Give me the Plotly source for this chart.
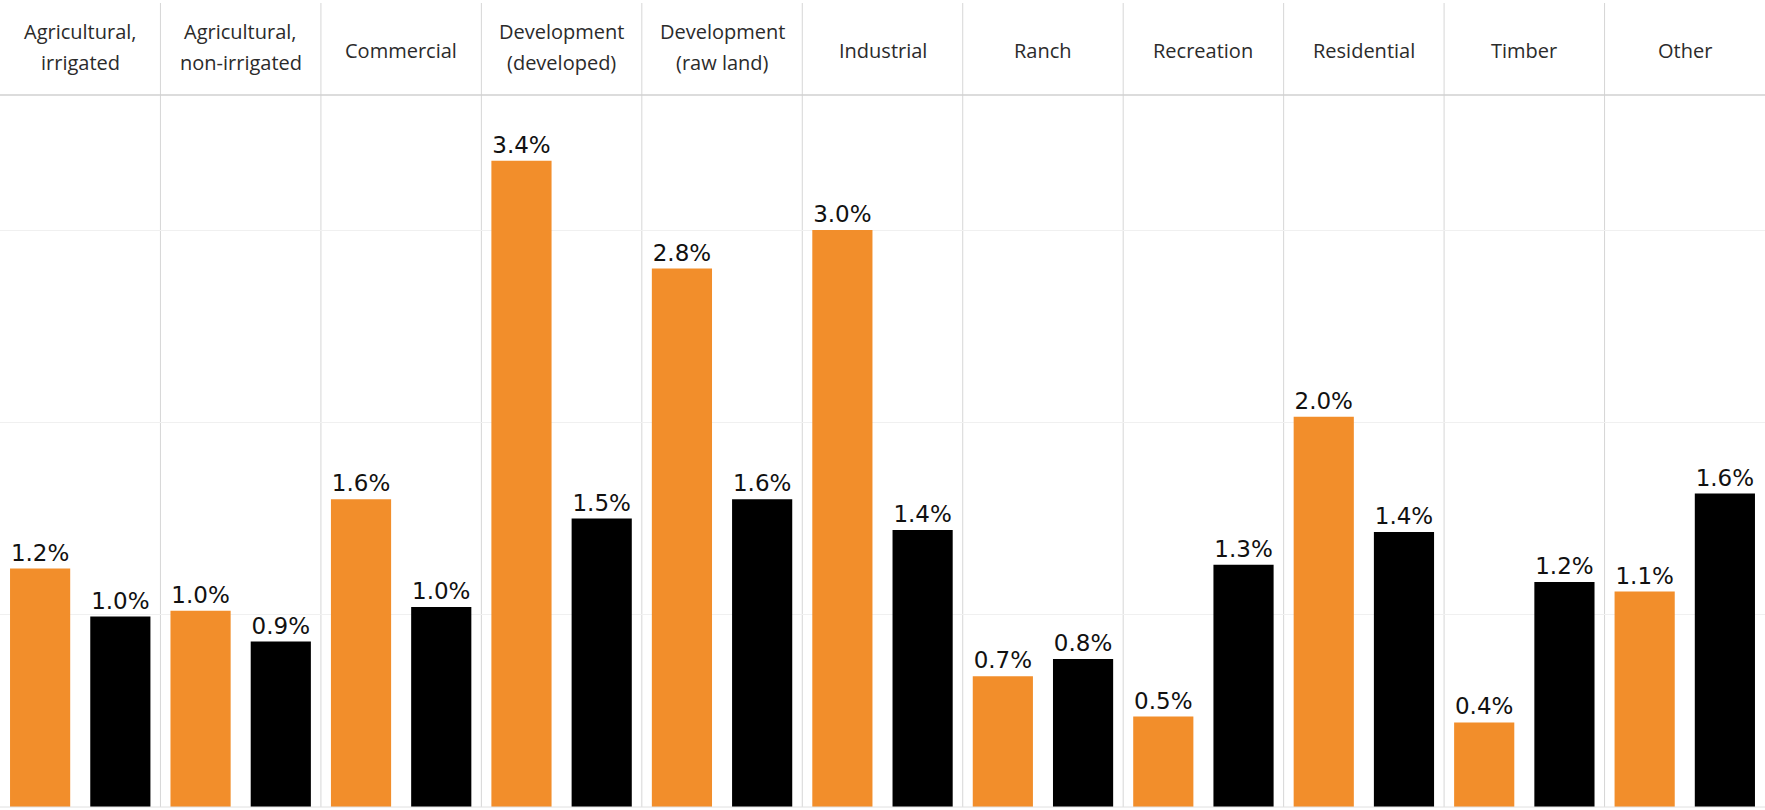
import plotly.graph_objects as go

categories = ["Agricultural,\nirrigated", "Agricultural,\nnon-irrigated", "Commercial",
              "Development\n(developed)", "Development\n(raw land)", "Industrial", "Ranch",
              "Recreation", "Residential", "Timber", "Other"]
series_orange = [1.24, 1.02, 1.60, 3.36, 2.80, 3.00, 0.68, 0.47, 2.03, 0.44, 1.12]
series_black = [0.99, 0.86, 1.04, 1.50, 1.60, 1.44, 0.77, 1.26, 1.43, 1.17, 1.63]

ORANGE = "#F28E2B"
BLACK = "#000000"
W, H = 1765, 810
T, B = 95, 3
plot_h = H - T - B
y_top = plot_h / 192.3

x = list(range(len(categories)))
label_font = dict(family="DejaVu Sans, Verdana, sans-serif", size=23, color="#111111")
header_font = dict(family="Open Sans, Noto Sans, Roboto, sans-serif", size=20, color="#2b2b2b")

fig = go.Figure()
fig.add_trace(go.Bar(x=x, y=series_orange, marker=dict(color=ORANGE, line=dict(width=0)),
                     texttemplate="%{y:.1f}%", textposition="outside", textfont=label_font,
                     cliponaxis=False, hoverinfo="skip"))
fig.add_trace(go.Bar(x=x, y=series_black, marker=dict(color=BLACK, line=dict(width=0)),
                     texttemplate="%{y:.1f}%", textposition="outside", textfont=label_font,
                     cliponaxis=False, hoverinfo="skip"))

shapes = []
top_paper = 1 + (T - 3) / plot_h
for i in range(len(categories) - 1):
    shapes.append(dict(type="line", xref="x", yref="paper", x0=i + 0.5, x1=i + 0.5,
                       y0=0, y1=top_paper, line=dict(color="#D6D6D6", width=1), layer="below"))
shapes.append(dict(type="line", xref="paper", yref="paper", x0=0, x1=1, y0=1, y1=1,
                   line=dict(color="#D0D0D0", width=1.5)))
shapes.append(dict(type="line", xref="paper", yref="paper", x0=0, x1=1, y0=0, y1=0,
                   line=dict(color="#E0E0E0", width=1)))


def py(px_from_top):
    return 1 + (T - px_from_top) / plot_h


annotations = []
for i, c in enumerate(categories):
    lines = c.split("\n")
    centers = [50] if len(lines) == 1 else [32, 63]
    for ln, cy in zip(lines, centers):
        annotations.append(dict(x=i, xref="x", y=py(cy), yref="paper",
                                text=ln, showarrow=False, xanchor="center", yanchor="middle",
                                font=header_font))

fig.update_layout(
    width=W, height=H,
    margin=dict(l=0, r=0, t=T, b=B),
    paper_bgcolor="white", plot_bgcolor="white",
    barmode="group", bargap=0, bargroupgap=0.25,
    showlegend=False,
    shapes=shapes, annotations=annotations,
    xaxis=dict(range=[-0.5, len(categories) - 0.5], showticklabels=False, showgrid=False,
               zeroline=False, showline=False, fixedrange=True),
    yaxis=dict(range=[0, y_top], showticklabels=False, showgrid=True, gridcolor="#F0F0F0",
               gridwidth=1, tickvals=[1, 2, 3], zeroline=False, showline=False, fixedrange=True),
)

fig.write_html("out.html", config={"displayModeBar": False},
               post_script="document.body.style.margin='0px';document.body.style.padding='0px';")
